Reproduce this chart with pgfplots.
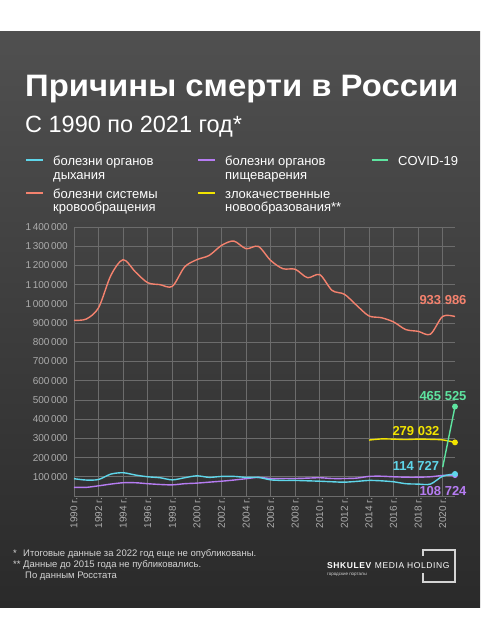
\documentclass[border=0pt]{standalone}
\usepackage{pgfplots}
\pgfplotsset{compat=1.18}
\usepackage{fontspec}
\setmainfont{Liberation Sans}
\definecolor{bgtop}{HTML}{505050}
\definecolor{bgbot}{HTML}{2A2A2A}
\definecolor{gridc}{HTML}{6C6C6C}
\definecolor{tickc}{HTML}{ACACAC}
\definecolor{circ}{HTML}{F4826E}
\definecolor{resp}{HTML}{5FD6EA}
\definecolor{dig}{HTML}{B67CF2}
\definecolor{covid}{HTML}{5EE4A0}
\definecolor{neo}{HTML}{F2E400}
\definecolor{foot}{HTML}{D4D4D4}
\begin{document}
\begin{tikzpicture}
\begin{scope}[x=1pt,y=1pt]
\fill[white] (0,0) rectangle (480,640);
\shade[top color=bgtop, bottom color=bgbot] (0,32) rectangle (480,608);
% title
\node[anchor=base west, inner sep=0pt, text=white, font=\fontsize{31}{34}\selectfont\bfseries] at (25,543.3) {\scalebox{1.06}[1]{Причины смерти в России}};
\node[anchor=base west, inner sep=0pt, text=white, font=\fontsize{23.5}{26}\selectfont] at (25,507) {С 1990 по 2021 год*};
% legend
\draw[resp, line width=1.6pt] (26,480) -- (43,480);
\draw[circ, line width=1.6pt] (26,447) -- (43,447);
\draw[dig, line width=1.6pt] (198,480) -- (215,480);
\draw[neo, line width=1.6pt] (198,447) -- (215,447);
\draw[covid, line width=1.6pt] (372,480) -- (388,480);
\begin{scope}[font=\fontsize{13}{14}\selectfont]
\node[anchor=base west, inner sep=0pt, text=white] at (53,474) {болезни органов};
\node[anchor=base west, inner sep=0pt, text=white] at (53,460) {дыхания};
\node[anchor=base west, inner sep=0pt, text=white] at (53,441.7) {болезни системы};
\node[anchor=base west, inner sep=0pt, text=white] at (53,428.3) {кровообращения};
\node[anchor=base west, inner sep=0pt, text=white] at (225,474) {болезни органов};
\node[anchor=base west, inner sep=0pt, text=white] at (225,460) {пищеварения};
\node[anchor=base west, inner sep=0pt, text=white] at (225,441.7) {злокачественные};
\node[anchor=base west, inner sep=0pt, text=white] at (225,428.3) {новообразования**};
\node[anchor=base west, inner sep=0pt, text=white] at (398,474) {COVID-19};
\end{scope}
\end{scope}
\begin{axis}[
  at={(74pt,144pt)}, anchor=south west,
  scale only axis, width=381pt, height=269pt,
  xmin=1990, xmax=2021, ymin=0, ymax=1400000,
  axis x line*=bottom, axis y line*=left,
  axis line style={gridc, line width=0.8pt, -},
  major tick length=0pt,
  grid=major, grid style={gridc, line width=0.8pt},
  xtick={1990,1992,...,2020},
  xticklabels={1990 г.,1992 г.,1994 г.,1996 г.,1998 г.,2000 г.,2002 г.,2004 г.,2006 г.,2008 г.,2010 г.,2012 г.,2014 г.,2016 г.,2018 г.,2020 г.},
  xticklabel style={rotate=90, anchor=east, text=tickc, font=\fontsize{10}{11}\selectfont, inner sep=2pt},
  ytick={100000,200000,...,1400000},
  yticklabels={100\,000,200\,000,300\,000,400\,000,500\,000,600\,000,700\,000,800\,000,900\,000,1\,000\,000,1\,100\,000,1\,200\,000,1\,300\,000,1\,400\,000},
  yticklabel style={text=tickc, font=\fontsize{10}{11}\selectfont, inner sep=2pt, xshift=-4pt},
  scaled y ticks=false,
  clip=false,
]
\addplot[circ, line width=1.4pt, smooth, tension=0.5, no marks] coordinates {
(1990,914500)(1991,921000)(1992,980000)(1993,1148000)(1994,1230000)(1995,1166000)
(1996,1110000)(1997,1100000)(1998,1091000)(1999,1192000)(2000,1230000)(2001,1252000)
(2002,1304000)(2003,1327000)(2004,1287000)(2005,1299000)(2006,1226000)(2007,1183000)
(2008,1180000)(2009,1136000)(2010,1152000)(2011,1070000)(2012,1050000)(2013,992000)
(2014,937000)(2015,928000)(2016,906000)(2017,866000)(2018,857000)(2019,842000)
(2020,935000)(2021,933986)};
\addplot[dig, line width=1.4pt, smooth, tension=0.5, mark=*, mark indices={32}, mark size=2.2pt] coordinates {
(1990,45000)(1991,45000)(1992,53000)(1993,62000)(1994,69000)(1995,69000)(1996,64000)
(1997,60000)(1998,58000)(1999,64000)(2000,67000)(2001,72000)(2002,77000)(2003,83000)
(2004,90000)(2005,97000)(2006,91000)(2007,91000)(2008,91000)(2009,93000)(2010,95000)
(2011,91000)(2012,91000)(2013,93000)(2014,102000)(2015,103000)(2016,100000)(2017,98000)
(2018,98000)(2019,100000)(2020,107000)(2021,108724)};
\addplot[resp, line width=1.4pt, smooth, tension=0.5, mark=*, mark indices={32}, mark size=2.2pt] coordinates {
(1990,90000)(1991,83000)(1992,86000)(1993,114000)(1994,121000)(1995,109000)(1996,100000)
(1997,95000)(1998,84000)(1999,95000)(2000,105000)(2001,97000)(2002,102000)(2003,102000)
(2004,97000)(2005,97000)(2006,84000)(2007,81000)(2008,81000)(2009,79000)(2010,77000)
(2011,74000)(2012,72000)(2013,76000)(2014,81000)(2015,79000)(2016,74000)(2017,64000)
(2018,62000)(2019,62000)(2020,103000)(2021,114727)};
\addplot[neo, line width=1.4pt, smooth, tension=0.5, mark=*, mark indices={8}, mark size=2.2pt] coordinates {
(2014,291000)(2015,297000)(2016,296000)(2017,294000)(2018,296000)(2019,295000)(2020,292000)(2021,279032)};
\addplot[covid, line width=1.4pt, mark=*, mark indices={2}, mark size=2.2pt] coordinates {
(2020,150000)(2021,465525)};
\end{axis}
\begin{scope}[x=1pt,y=1pt]
% value labels
\begin{scope}[font=\fontsize{13}{14}\selectfont\bfseries, inner sep=0pt]
\node[text=circ] at (443,340) {933 986};
\node[text=covid] at (443,244) {465 525};
\node[text=neo] at (416,209.3) {279 032};
\node[text=resp] at (416,174) {114 727};
\node[text=dig] at (443,149) {108 724};
\end{scope}
% footnotes
\begin{scope}[font=\fontsize{9.5}{11}\selectfont, inner sep=0pt]
\node[anchor=base west, text=foot] at (13,83.3) {*};
\node[anchor=base west, text=foot] at (23,83.3) {Итоговые данные за 2022 год еще не опубликованы.};
\node[anchor=base west, text=foot] at (13,72.7) {**};
\node[anchor=base west, text=foot] at (23,72.7) {Данные до 2015 года не публиковались.};
\node[anchor=base west, text=foot] at (25,61) {По данным Росстата};
\end{scope}
% logo
\node[anchor=base west, inner sep=0pt, text=white, font=\fontsize{8.5}{9}\selectfont\addfontfeature{LetterSpace=7}] at (327,71.7) {\textbf{SHKULEV} MEDIA HOLDING};
\node[anchor=base west, inner sep=0pt, text=foot, font=\fontsize{4.5}{5}\selectfont] at (327,64) {городские порталы};
\draw[foot, line width=1.1pt] (423,84) -- (423,90) -- (455,90) -- (455,58) -- (423,58) -- (423,67);
\end{scope}
\end{tikzpicture}
\end{document}
